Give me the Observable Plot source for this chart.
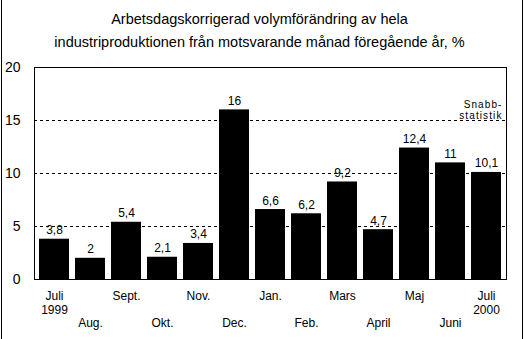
<!DOCTYPE html>
<html>
<head>
<meta charset="utf-8">
<script src="https://cdn.jsdelivr.net/npm/d3@7"></script>
<script src="https://cdn.jsdelivr.net/npm/@observablehq/plot@0.6"></script>
<style>
  html, body { margin: 0; padding: 0; background: #fff; }
  #wrap { position: relative; width: 524px; height: 339px; overflow: hidden; }
  .vline { position: absolute; top: 0; width: 1px; height: 339px; background: #000; }
  svg { font-family: "Liberation Sans", Arial, sans-serif; }
  .note text, text.note, .note tspan { letter-spacing: 1.1px; }
</style>
</head>
<body>
<div id="wrap">
  <div class="vline" style="left:1px"></div>
  <div class="vline" style="left:522px"></div>
</div>
<script>
const months = ["Juli", "Aug.", "Sept.", "Okt.", "Nov.", "Dec.", "Jan.", "Feb.", "Mars", "April", "Maj", "Juni", "Juli"];
const years = ["1999", "", "", "", "", "", "", "", "", "", "", "", "2000"];
const values = [3.8, 2, 5.4, 2.1, 3.4, 16, 6.6, 6.2, 9.2, 4.7, 12.4, 11, 10.1];
const yTicks = [0, 5, 10, 15, 20];
const gridValues = [5, 10, 15];
const titleLines = ["Arbetsdagskorrigerad volymförändring av hela", "industriproduktionen från motsvarande månad föregående år, %"];
const noteText = "Snabb-\nstatistik";

const data = months.map((m, i) => ({
  key: i,
  month: m,
  label: years[i] ? m + "\n" + years[i] : m,
  row: i % 2,
  value: values[i],
  text: String(values[i]).replace(".", ",")
}));

const chart = Plot.plot({
  width: 524,
  height: 339,
  marginTop: 67,
  marginBottom: 60,
  marginLeft: 34,
  marginRight: 18,
  style: { fontFamily: "Liberation Sans, Arial, sans-serif", background: "transparent", overflow: "visible" },
  x: { type: "band", domain: data.map(d => d.key), paddingInner: 0.156, paddingOuter: 0.058, axis: null },
  y: { domain: [0, 20], ticks: yTicks, axis: null },
  marks: [
    Plot.ruleY(gridValues, { stroke: "#000", strokeWidth: 1, strokeDasharray: "3,3" }),
    Plot.barY(data, { x: "key", y: "value", fill: "#000" }),
    Plot.text(data, { x: "key", y: "value", text: "text", dy: -5, lineAnchor: "bottom", fontSize: 12, fill: "#000" }),
    Plot.frame({ stroke: "#000", strokeWidth: 1 }),
    Plot.text(yTicks, { y: d => d, frameAnchor: "left", dx: -14, textAnchor: "end", text: d => String(d), fontSize: 14, fill: "#000" }),
    Plot.text(data.filter(d => d.row === 0), { x: "key", frameAnchor: "bottom", dy: 11, lineAnchor: "top", text: "label", fontSize: 12, lineHeight: 1.15, fill: "#000" }),
    Plot.text(data.filter(d => d.row === 1), { x: "key", frameAnchor: "bottom", dy: 39, lineAnchor: "top", text: "label", fontSize: 12, fill: "#000" }),
    Plot.text([noteText], { y: [15], frameAnchor: "right", dx: -4, dy: -2, textAnchor: "end", lineAnchor: "bottom", text: d => d, fontSize: 10, lineHeight: 1.05, className: "note", fill: "#000" }),
    Plot.text([titleLines.join("\n")], { frameAnchor: "top", dx: -11, dy: -59, lineAnchor: "top", text: d => d, fontSize: 14.5, lineHeight: 1.55, fill: "#000" })
  ]
});
document.getElementById("wrap").appendChild(chart);
</script>
</body>
</html>
